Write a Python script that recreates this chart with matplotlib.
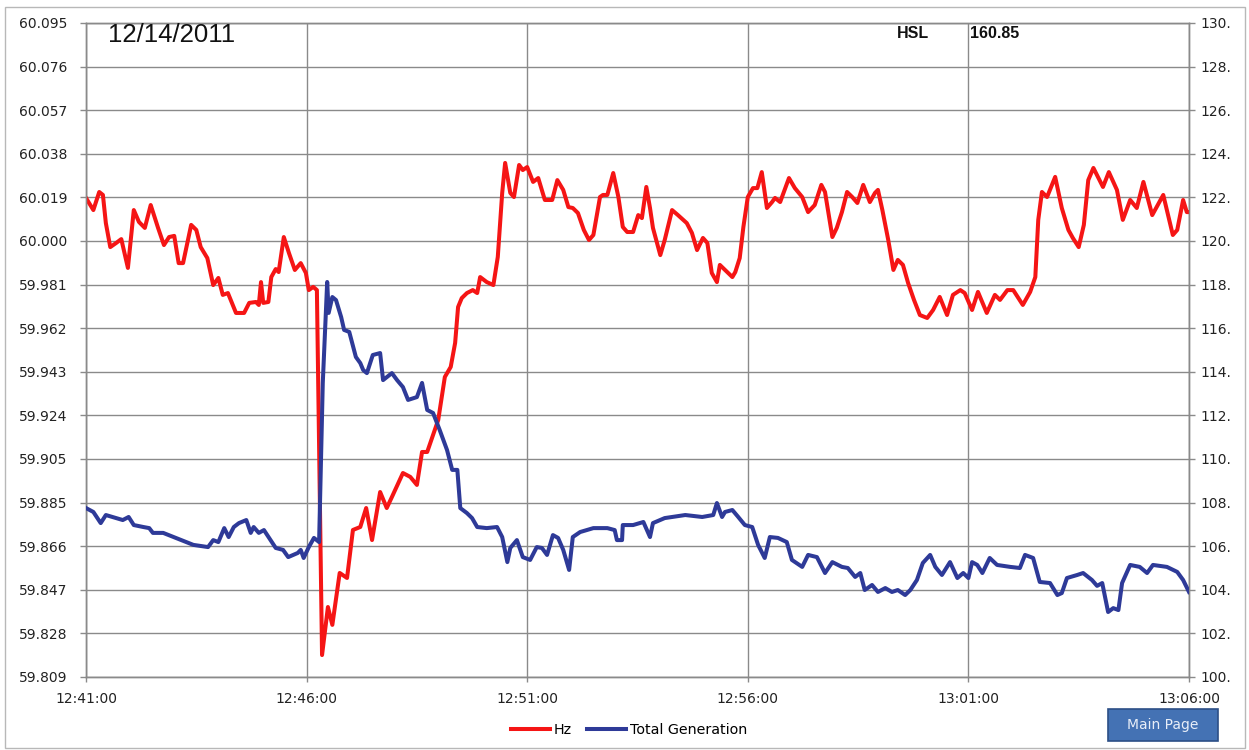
import matplotlib
matplotlib.use("Agg")
import matplotlib.pyplot as plt
from matplotlib.patches import Rectangle, FancyBboxPatch
import numpy as np
import pandas as pd

# ---------------- data ----------------
base_time = "2011-12-14 12:41:00"

hz_seconds = [0, 10, 18, 23, 27, 33, 41, 48, 57, 65, 72, 80, 88, 98, 106, 113, 120, 126, 132, 143,
              150, 156, 165, 173, 180, 186, 193, 204, 215, 222, 231, 235, 238, 241, 248, 252, 258, 262, 269, 276,
              284, 292, 299, 303, 309, 314, 317, 321, 329, 335, 345, 355, 363, 373, 381, 389, 400, 409, 416, 431,
              441, 450, 457, 464, 471, 479, 488, 496, 502, 506, 511, 518, 526, 532, 536, 545, 554, 560, 566, 570,
              577, 582, 589, 594, 600, 608, 615, 624, 634, 641, 649, 656, 662, 669, 677, 684, 690, 699, 703, 709,
              717, 724, 730, 736, 744, 751, 756, 762, 767, 771, 781, 787, 797, 805, 817, 824, 831, 839, 845, 851,
              858, 862, 869, 879, 883, 889, 894, 900, 907, 913, 919, 926, 933, 937, 944, 956, 964, 974, 982, 991,
              1000, 1005, 1015, 1021, 1028, 1035, 1042, 1049, 1057, 1066, 1073, 1077, 1083, 1091, 1098, 1104, 1111, 1118, 1126, 1134,
              1144, 1152, 1161, 1171, 1179, 1189, 1195, 1205, 1213, 1225, 1236, 1243, 1253, 1261, 1274, 1284, 1291, 1295, 1300, 1307,
              1318, 1327, 1336, 1342, 1350, 1357, 1363, 1370, 1383, 1391, 1402, 1410, 1420, 1429, 1438, 1450, 1465, 1478, 1484, 1492,
              1497, 1500]
hz_values = [60.0185, 60.0132, 60.0211, 60.0198, 60.0075, 59.9970, 59.9988, 60.0005, 59.9879, 60.0132,
             60.0080, 60.0054, 60.0154, 60.0054, 59.9979, 60.0014, 60.0019, 59.9900, 59.9900, 60.0067,
             60.0045, 59.9970, 59.9922, 59.9804, 59.9835, 59.9761, 59.9769, 59.9682, 59.9682, 59.9726,
             59.9730, 59.9717, 59.9817, 59.9726, 59.9730, 59.9839, 59.9874, 59.9861, 60.0014, 59.9944,
             59.9870, 59.9900, 59.9857, 59.9782, 59.9796, 59.9782, 59.9083, 59.8186, 59.8396, 59.8318,
             59.8545, 59.8523, 59.8733, 59.8746, 59.8829, 59.8689, 59.8899, 59.8829, 59.8877, 59.8982,
             59.8965, 59.8930, 59.9074, 59.9074, 59.9140, 59.9214, 59.9402, 59.9446, 59.9551, 59.9708,
             59.9747, 59.9769, 59.9782, 59.9769, 59.9839, 59.9817, 59.9804, 59.9927, 60.0207, 60.0338,
             60.0207, 60.0189, 60.0329, 60.0307, 60.0320, 60.0255, 60.0272, 60.0176, 60.0176, 60.0263,
             60.0220, 60.0145, 60.0141, 60.0119, 60.0045, 60.0001, 60.0023, 60.0189, 60.0198, 60.0198,
             60.0294, 60.0189, 60.0058, 60.0036, 60.0036, 60.0110, 60.0097, 60.0233, 60.0141, 60.0054,
             59.9935, 60.0001, 60.0132, 60.0110, 60.0075, 60.0032, 59.9957, 60.0010, 59.9988, 59.9857,
             59.9817, 59.9892, 59.9870, 59.9839, 59.9861, 59.9922, 60.0058, 60.0189, 60.0228, 60.0228,
             60.0298, 60.0141, 60.0167, 60.0185, 60.0167, 60.0272, 60.0228, 60.0189, 60.0123, 60.0154,
             60.0242, 60.0211, 60.0014, 60.0054, 60.0123, 60.0211, 60.0189, 60.0163, 60.0242, 60.0167,
             60.0207, 60.0220, 60.0132, 60.0001, 59.9870, 59.9914, 59.9892, 59.9813, 59.9739, 59.9673,
             59.9660, 59.9695, 59.9752, 59.9673, 59.9761, 59.9782, 59.9769, 59.9695, 59.9774, 59.9682,
             59.9761, 59.9739, 59.9782, 59.9782, 59.9717, 59.9774, 59.9839, 60.0089, 60.0211, 60.0189,
             60.0277, 60.0141, 60.0045, 60.0010, 59.9970, 60.0067, 60.0263, 60.0316, 60.0233, 60.0298,
             60.0220, 60.0089, 60.0176, 60.0141, 60.0255, 60.0110, 60.0198, 60.0023, 60.0045, 60.0176,
             60.0123, 60.0123]

gen_seconds = [0, 10, 20, 27, 41, 50, 58, 65, 78, 86, 91, 105, 122, 136, 146, 166, 173, 180, 188, 194,
               201, 208, 218, 224, 228, 235, 242, 249, 258, 268, 275, 288, 292, 296, 303, 310, 317, 322, 328, 330,
               335, 340, 347, 351, 358, 367, 373, 377, 382, 390, 400, 404, 416, 423, 431, 438, 450, 457, 464, 472,
               481, 491, 498, 505, 509, 518, 525, 532, 545, 559, 566, 573, 577, 586, 594, 604, 613, 620, 627, 635,
               642, 649, 657, 662, 672, 690, 709, 719, 722, 729, 730, 744, 758, 767, 771, 787, 815, 838, 853, 858,
               865, 869, 879, 887, 896, 906, 914, 923, 930, 941, 953, 960, 974, 982, 994, 1005, 1015, 1028, 1036, 1046,
               1053, 1059, 1069, 1077, 1087, 1096, 1104, 1114, 1121, 1130, 1138, 1148, 1155, 1164, 1175, 1185, 1193, 1200, 1205, 1212,
               1219, 1229, 1239, 1257, 1270, 1277, 1288, 1297, 1311, 1321, 1327, 1334, 1348, 1356, 1368, 1375, 1382, 1390, 1397, 1404,
               1409, 1420, 1433, 1443, 1451, 1470, 1484, 1492, 1500]
gen_values = [107.75, 107.57, 107.06, 107.43, 107.29, 107.20, 107.34, 106.97, 106.88, 106.83,
              106.61, 106.61, 106.38, 106.19, 106.06, 105.96, 106.28, 106.19, 106.83, 106.42,
              106.88, 107.06, 107.20, 106.61, 106.88, 106.61, 106.74, 106.38, 105.92, 105.83,
              105.50, 105.69, 105.83, 105.46, 105.96, 106.38, 106.19, 113.49, 118.12, 116.70,
              117.43, 117.29, 116.51, 115.92, 115.83, 114.68, 114.40, 114.08, 113.94, 114.77,
              114.86, 113.62, 113.94, 113.62, 113.30, 112.71, 112.84, 113.49, 112.25, 112.11,
              111.33, 110.41, 109.50, 109.50, 107.75, 107.52, 107.29, 106.88, 106.83, 106.88,
              106.42, 105.27, 105.92, 106.28, 105.50, 105.37, 105.96, 105.92, 105.60, 106.51,
              106.38, 105.83, 104.91, 106.42, 106.65, 106.83, 106.83, 106.74, 106.28, 106.28,
              106.97, 106.97, 107.11, 106.42, 107.06, 107.29, 107.43, 107.34, 107.43, 107.98,
              107.34, 107.57, 107.66, 107.34, 106.97, 106.88, 106.06, 105.46, 106.42, 106.38,
              106.19, 105.37, 105.05, 105.60, 105.50, 104.77, 105.27, 105.05, 105.00, 104.59,
              104.77, 103.99, 104.22, 103.90, 104.08, 103.90, 103.99, 103.76, 103.99, 104.45,
              105.23, 105.60, 105.05, 104.68, 105.27, 104.54, 104.77, 104.54, 105.27, 105.14,
              104.77, 105.46, 105.14, 105.05, 105.00, 105.60, 105.46, 104.36, 104.31, 103.76,
              103.85, 104.54, 104.68, 104.77, 104.45, 104.18, 104.31, 102.98, 103.16, 103.07,
              104.31, 105.14, 105.05, 104.77, 105.14, 105.05, 104.82, 104.45, 103.90]

hz_ticklabels = ["59.809", "59.828", "59.847", "59.866", "59.885", "59.905", "59.924", "59.943",
                 "59.962", "59.981", "60.000", "60.019", "60.038", "60.057", "60.076", "60.095"]
gen_ticks = [100, 102, 104, 106, 108, 110, 112, 114, 116, 118, 120, 122, 124, 126, 128, 130]
gen_ticklabels = [f"{v}." for v in gen_ticks]
time_ticklabels = ["12:41:00", "12:46:00", "12:51:00", "12:56:00", "13:01:00", "13:06:00"]
date_text = "12/14/2011"
hsl_label = "HSL"
hsl_value = "160.85"
series_names = ["Hz", "Total Generation"]

# ---------------- plot ----------------
t0 = pd.Timestamp(base_time)
hz_t = t0 + pd.to_timedelta(hz_seconds, unit="s")
gen_t = t0 + pd.to_timedelta(gen_seconds, unit="s")
tick_t = [pd.Timestamp("2011-12-14 " + s) for s in time_ticklabels]

W, H = 1249, 750
fig = plt.figure(figsize=(W / 100, H / 100), dpi=100)
fig.patch.set_facecolor("white")

ax = fig.add_axes([86 / W, 1 - 677 / H, (1189 - 86) / W, (677 - 23) / H])
ax2 = ax.twinx()

grid_c = "#8a8a8a"
red = "#f51515"
blue = "#2e3a98"
lw = 2.9

ax.plot(hz_t, hz_values, color=red, lw=lw, solid_joinstyle="round", zorder=3)
ax2.plot(gen_t, gen_values, color=blue, lw=lw, solid_joinstyle="round", zorder=3)

ax.set_xlim(tick_t[0], tick_t[-1])
ax.set_ylim(59.809, 60.095)
ax2.set_ylim(100, 130)

hz_ticks = np.linspace(59.809, 60.095, len(hz_ticklabels))
ax.set_yticks(hz_ticks)
ax.set_yticklabels(hz_ticklabels)
ax2.set_yticks(gen_ticks)
ax2.set_yticklabels(gen_ticklabels)
ax.set_xticks(tick_t)
ax.set_xticklabels(time_ticklabels)

ax.grid(True, color=grid_c, lw=1.0)
for a in (ax, ax2):
    for s in a.spines.values():
        s.set_color(grid_c)
        s.set_linewidth(1.0)
ax.tick_params(axis="y", which="both", direction="out", length=4.5, width=1, color=grid_c,
               labelsize=10, pad=9, labelcolor="#222222")
ax.tick_params(axis="x", direction="out", length=3.5, width=1, color=grid_c,
               labelsize=10, pad=7, labelcolor="#222222")
ax2.tick_params(axis="y", direction="out", length=4.5, width=1, color=grid_c,
                labelsize=10, pad=4, labelcolor="#222222")

# annotations
fig.text(108 / W, 1 - 35 / H, date_text, fontsize=18.5, family="Liberation Sans",
         va="center", ha="left", color="#111111")
fig.text(897 / W, 1 - 33 / H, hsl_label, fontsize=11.5, family="Liberation Sans", weight="bold",
         va="center", ha="left", color="#111111")
fig.text(970 / W, 1 - 33 / H, hsl_value, fontsize=11.5, family="Liberation Sans", weight="bold",
         va="center", ha="left", color="#111111")

# legend
handles = [plt.Line2D([], [], color=red, lw=lw), plt.Line2D([], [], color=blue, lw=lw)]
fig.legend(handles, series_names, loc="center", bbox_to_anchor=(629 / W, 1 - 730 / H), ncol=2,
           frameon=False, fontsize=10.3, handlelength=2.7, handletextpad=0.25, columnspacing=1.1)

# Main Page button
btn = FancyBboxPatch((1108 / W, 1 - 741 / H), 110 / W, 32 / H, boxstyle="square,pad=0",
                     transform=fig.transFigure, facecolor="#4472b4", edgecolor="#2c4f86", lw=1.2)
fig.patches.append(btn)
fig.text(1163 / W, 1 - 725 / H, "Main Page", fontsize=10, color="#e8eef8", ha="center", va="center")

# outer frame
frame = Rectangle((5 / W, 2 / H), 1240 / W, 741 / H, transform=fig.transFigure,
                  fill=False, edgecolor="#b8b8b8", lw=1.0)
fig.patches.append(frame)

fig.savefig("out.png", dpi=100)
